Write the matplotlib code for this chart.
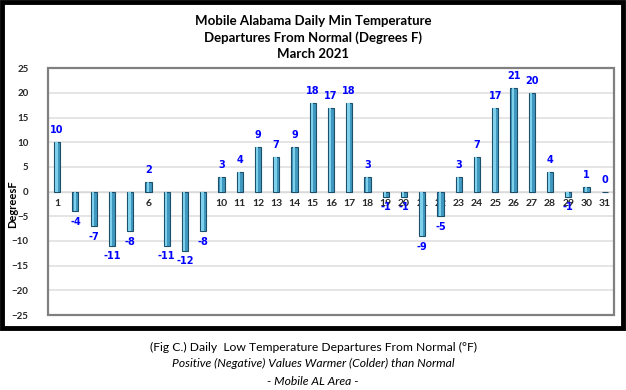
import numpy as np
import matplotlib
matplotlib.use("Agg")
import matplotlib.pyplot as plt
from matplotlib.patches import Rectangle

plt.rcParams['font.family'] = ['Lato', 'DejaVu Sans']

# data
days = list(range(1, 32))
departures = [10, -4, -7, -11, -8, 2, -11, -12, -8, 3, 4, 9, 7, 9, 18, 17, 18, 3,
              -1, -1, -9, -5, 3, 7, 17, 21, 20, 4, -1, 1, 0]
y_ticks = [-25, -20, -15, -10, -5, 0, 5, 10, 15, 20, 25]

title_lines = "Mobile Alabama Daily Min Temperature\nDepartures From Normal (Degrees F)\nMarch 2021"
caption1 = "(Fig C.) Daily  Low Temperature Departures From Normal (\u00b0F)"
caption2 = "Positive (Negative) Values Warmer (Colder) than Normal"
caption3 = "- Mobile AL Area -"

fig = plt.figure(figsize=(6.26, 3.9), dpi=100)
fig.patch.set_facecolor('white')

# black frame round the chart part
fig.patches.append(Rectangle((0.0025, 0.159), 0.992, 0.837, transform=fig.transFigure,
                             fill=False, edgecolor='black', linewidth=3.5, zorder=10))

ax = fig.add_axes([0.0767, 0.1923, 0.904, 0.633])
ax.set_xlim(0.5, 31.5)
ax.set_ylim(-25, 25)

# gridlines
ax.set_yticks(y_ticks)
ax.yaxis.grid(True, color='#e0e0e0', linewidth=1.2)
ax.set_axisbelow(True)

# bars: dark outer + lighter strip for the cylinder look
ax.bar(days, departures, width=0.34, color='#3f98bf', edgecolor='#1d4f6a',
       linewidth=0.8, zorder=3)
ax.bar(np.array(days) - 0.04, departures, width=0.12, color='#7fd0ea',
       linewidth=0, zorder=4)

# value labels
for d, v in zip(days, departures):
    if v >= 0:
        ax.annotate(str(v), (d, v), xytext=(0, 5), textcoords='offset points',
                    ha='center', va='bottom', color='#0000ff', fontsize=7,
                    fontweight='bold', family='DejaVu Sans')
    else:
        ax.annotate(str(v), (d, v), xytext=(0, -4), textcoords='offset points',
                    ha='center', va='top', color='#0000ff', fontsize=7,
                    fontweight='bold', family='DejaVu Sans')

# x labels sit on the zero line
ax.spines['bottom'].set_position(('data', 0))
ax.spines['bottom'].set_color('#d9d9d9')
ax.spines['bottom'].set_linewidth(1.0)
ax.spines['top'].set_visible(False)
ax.spines['right'].set_visible(False)
ax.spines['left'].set_visible(False)
ax.add_patch(Rectangle((0, 0), 1, 1, transform=ax.transAxes, fill=False,
                       edgecolor='#808080', linewidth=1.6, zorder=6, clip_on=False))

ax.set_xticks(days)
ax.set_xticklabels([str(d) for d in days], fontsize=7.5, fontweight='bold', color='#262626')
ax.tick_params(axis='x', length=0, pad=5)
ax.tick_params(axis='y', length=0, pad=14, labelsize=7, labelcolor='#262626')
for t in ax.get_yticklabels():
    t.set_fontweight('bold')

ax.set_ylabel("DegreesF", fontsize=8, fontweight='bold', labelpad=2)
ax.yaxis.set_label_coords(-0.052, 0.45)

fig.text(0.5, 0.962, title_lines, ha='center', va='top', fontsize=9.5,
         fontweight='bold', linespacing=1.4)

fig.text(0.5, 0.110, caption1, ha='center', va='center', fontsize=8.7)
fig.text(0.5, 0.067, caption2, ha='center', va='center', fontsize=8.7, style='italic')
fig.text(0.5, 0.023, caption3, ha='center', va='center', fontsize=8.7, style='italic')

plt.savefig("out.png", dpi=100)
plt.close()
